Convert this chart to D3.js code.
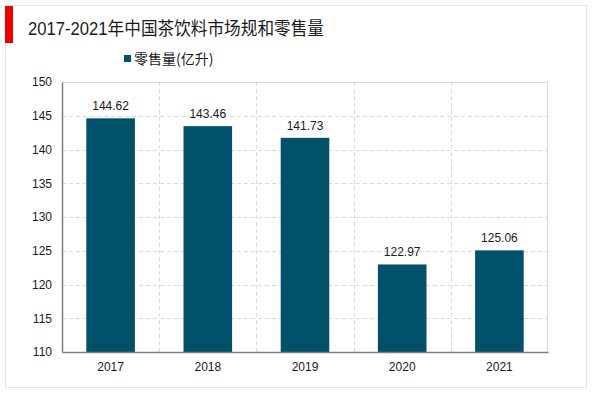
<!DOCTYPE html>
<html>
<head>
<meta charset="utf-8">
<script src="https://cdn.jsdelivr.net/npm/d3@7"></script>
<style>
  body { margin: 0; background: #fff; }
  svg { display: block; font-family: "Liberation Sans", Arial, "Noto Sans CJK SC", sans-serif; }
</style>
</head>
<body>
<svg id="chart" width="600" height="393"></svg>
<script>
// chart data
const years = ["2017", "2018", "2019", "2020", "2021"];
const retail = [144.62, 143.46, 141.73, 122.97, 125.06];
const yTicks = [110, 115, 120, 125, 130, 135, 140, 145, 150];

const svg = d3.select("#chart");
const margin = {top: 82, right: 52, bottom: 41, left: 62},
    width = 600 - margin.left - margin.right,
    height = 393 - margin.top - margin.bottom;

// outer frame + title block
svg.append("rect")
    .attr("x", 5.5).attr("y", 5.5)
    .attr("width", 581).attr("height", 382)
    .attr("fill", "none")
    .attr("stroke", "#e6e6e6");
svg.append("rect")
    .attr("x", 5).attr("y", 6)
    .attr("width", 8).attr("height", 37)
    .attr("fill", "#ee0000");
svg.append("text")
    .attr("x", 28).attr("y", 35)
    .style("font-size", "18px")
    .attr("textLength", 296)
    .attr("lengthAdjust", "spacingAndGlyphs")
    .attr("fill", "#1a1a1a")
    .text("2017-2021年中国茶饮料市场规和零售量");

// legend
svg.append("rect")
    .attr("x", 124).attr("y", 55)
    .attr("width", 7).attr("height", 7)
    .attr("fill", "#01516b");
svg.append("text")
    .attr("x", 134).attr("y", 64)
    .style("font-size", "14px")
    .style("font-family", "'Noto Sans CJK SC', sans-serif")
    .attr("fill", "#1a1a1a")
    .text("零售量(亿升)");

const g = svg.append("g")
    .attr("transform", "translate(" + margin.left + "," + margin.top + ")");

const x = d3.scaleBand().domain(years).range([0, width]).paddingInner(0).paddingOuter(0);
const y = d3.scaleLinear().domain([110, 150]).range([height, 0]);
const barW = x.bandwidth() * 0.5;

// horizontal grid
g.selectAll(".hgrid")
    .data(yTicks.filter(d => d > 110 && d < 150))
    .enter().append("line")
    .attr("x1", 0).attr("x2", width)
    .attr("y1", d => Math.round(y(d)) + 0.5)
    .attr("y2", d => Math.round(y(d)) + 0.5)
    .attr("stroke", "#d9d9d9")
    .attr("stroke-dasharray", "4,3");

// vertical grid between categories
g.selectAll(".vgrid")
    .data(years.slice(1))
    .enter().append("line")
    .attr("x1", d => Math.round(x(d)) + 0.5)
    .attr("x2", d => Math.round(x(d)) + 0.5)
    .attr("y1", 0).attr("y2", height)
    .attr("stroke", "#d9d9d9")
    .attr("stroke-dasharray", "4,3");

// top and right border of plot
g.append("line")
    .attr("x1", 0).attr("x2", width)
    .attr("y1", 0.5).attr("y2", 0.5)
    .attr("stroke", "#d9d9d9");
g.append("line")
    .attr("x1", width - 0.5).attr("x2", width - 0.5)
    .attr("y1", 0).attr("y2", height)
    .attr("stroke", "#d9d9d9");

// bars
g.selectAll(".bar")
    .data(years)
    .enter().append("rect")
    .attr("class", "bar")
    .attr("x", d => x(d) + (x.bandwidth() - barW) / 2)
    .attr("width", barW)
    .attr("y", (d, i) => y(retail[i]))
    .attr("height", (d, i) => height - y(retail[i]))
    .attr("fill", "#01516b");

// value labels
g.selectAll(".val")
    .data(years)
    .enter().append("text")
    .attr("x", d => x(d) + x.bandwidth() / 2)
    .attr("y", (d, i) => y(retail[i]) - 8)
    .attr("text-anchor", "middle")
    .style("font-size", "12px")
    .attr("fill", "#1a1a1a")
    .text((d, i) => retail[i].toFixed(2));

// axes
const yAxis = g.append("g")
    .call(d3.axisLeft(y).tickValues(yTicks).tickSize(0).tickPadding(10));
yAxis.select(".domain").attr("stroke", "#7f7f7f").attr("stroke-width", 1.5);
yAxis.selectAll("text").style("font-size", "12px").attr("fill", "#1a1a1a");

const xAxis = g.append("g")
    .attr("transform", "translate(0," + height + ")")
    .call(d3.axisBottom(x).tickSize(0).tickPadding(10));
xAxis.select(".domain").attr("stroke", "#7f7f7f").attr("stroke-width", 1.5);
xAxis.selectAll("text").style("font-size", "12px").attr("fill", "#1a1a1a");
</script>
</body>
</html>
